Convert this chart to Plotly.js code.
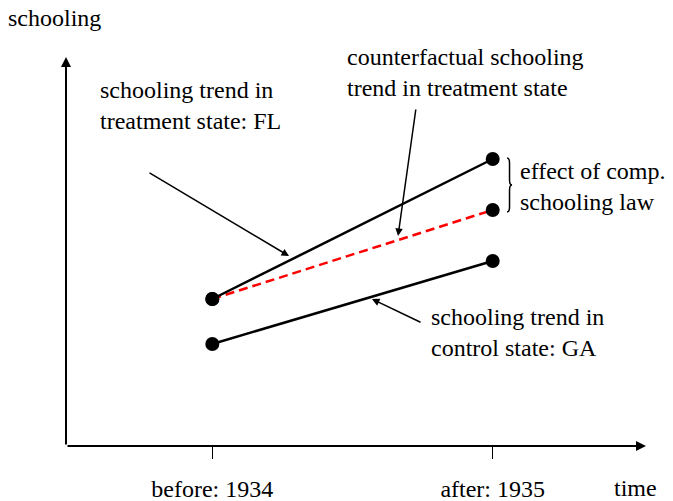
<!DOCTYPE html>
<html>
<head>
<meta charset="utf-8">
<script src="https://cdn.plot.ly/plotly-3.0.1.min.js"></script>
<style>html,body{margin:0;padding:0;background:#fff;}#chart{width:673px;height:501px;}</style>
</head>
<body>
<div id="chart"></div>
<script>
// Data
const periods = [1934, 1935];
const periodLabels = ["before: 1934", "after: 1935"];
const treatmentFL = [14.7, 28.7];
const controlGA = [10.2, 18.5];
const counterfactualFL = [14.7, 23.6];

const FONT = "Liberation Serif";

const traces = [
  {x: periods, y: controlGA, mode: "lines+markers", line: {color: "#000", width: 2.5},
   marker: {color: "#000", size: 14}, hoverinfo: "skip"},
  {x: periods, y: counterfactualFL, mode: "lines+markers", line: {color: "#ff0000", width: 2.5, dash: "9px,5px"},
   marker: {color: "#000", size: 14}, hoverinfo: "skip"},
  {x: periods, y: treatmentFL, mode: "lines+markers", line: {color: "#000", width: 2.5},
   marker: {color: "#000", size: 14}, hoverinfo: "skip"}
];

function tf() { return {family: FONT, size: 24, color: "#000"}; }
function label(text, x, y) {
  return {text: text, x: x, y: y, xref: "x", yref: "y", showarrow: false,
    xanchor: "left", yanchor: "middle", align: "left", font: tf()};
}
function pointer(x, y, ax, ay, w) {
  return {text: "", x: x, y: y, ax: ax, ay: ay, xref: "x", yref: "y", axref: "x", ayref: "y",
    showarrow: true, arrowhead: 2, arrowsize: 1, arrowwidth: w || 1.5, arrowcolor: "#000"};
}

const annotations = [
  // axes with arrow heads
  {text: "", xref: "paper", yref: "paper", x: 0, y: 1, ax: 0, ay: 389, showarrow: true,
   arrowhead: 2, arrowsize: 1, arrowwidth: 2, arrowcolor: "#000"},
  {text: "", xref: "paper", yref: "paper", x: 1, y: 0, ax: -580, ay: 0, showarrow: true,
   arrowhead: 2, arrowsize: 1, arrowwidth: 2, arrowcolor: "#000"},
  // axis titles
  {text: "schooling", xref: "paper", yref: "paper", x: -0.103, y: 1.1, xanchor: "left", yanchor: "middle",
   showarrow: false, font: tf()},
  {text: "time", xref: "paper", yref: "paper", x: 0.941, y: -0.108, xanchor: "left", yanchor: "middle",
   showarrow: false, font: tf()},
  // labels
  label("schooling trend in<br>treatment state: FL", 1933.593, 34.1),
  label("counterfactual schooling<br>trend in treatment state", 1934.474, 37.4),
  label("effect of comp.<br>schooling law", 1935.090, 26.0),
  label("schooling trend in<br>control state: GA", 1934.773, 11.4),
  // pointers
  pointer(1934.2735, 19.0, 1933.7707, 27.4),
  pointer(1934.6623, 21.0, 1934.7265, 33.8),
  pointer(1934.5695, 14.7, 1934.7479, 12.3)
];

// curly brace for the effect
const bx0 = 1935.051, bx1 = 1935.060, bx2 = 1935.069;
const bTop = 28.8, bBot = 23.4, bMid = 26.1;
const bracePath = `M ${bx0},${bTop} Q ${bx1},${bTop} ${bx1},${bTop-0.5} L ${bx1},${bMid+0.5} Q ${bx1},${bMid} ${bx2},${bMid} Q ${bx1},${bMid} ${bx1},${bMid-0.5} L ${bx1},${bBot+0.5} Q ${bx1},${bBot} ${bx0},${bBot}`;

const layout = {
  width: 673, height: 501,
  margin: {l: 66, r: 27, t: 57, b: 55},
  paper_bgcolor: "#fff", plot_bgcolor: "#fff",
  showlegend: false,
  xaxis: {range: [1933.4782, 1935.5467], showgrid: false, zeroline: false, showline: false,
    tickmode: "array", tickvals: periods, ticktext: periodLabels, ticks: "outside", ticklen: 12,
    tickwidth: 1.5, tickcolor: "#000", tickfont: tf(), ticklabelstandoff: 9, fixedrange: true},
  yaxis: {range: [0, 38.9], showgrid: false, zeroline: false, showline: false, showticklabels: false,
    ticks: "", fixedrange: true},
  annotations: annotations,
  shapes: [{type: "path", xref: "x", yref: "y", path: bracePath, line: {color: "#000", width: 1.5}}]
};

Plotly.newPlot("chart", traces, layout, {displayModeBar: false, staticPlot: true});
</script>
</body>
</html>
